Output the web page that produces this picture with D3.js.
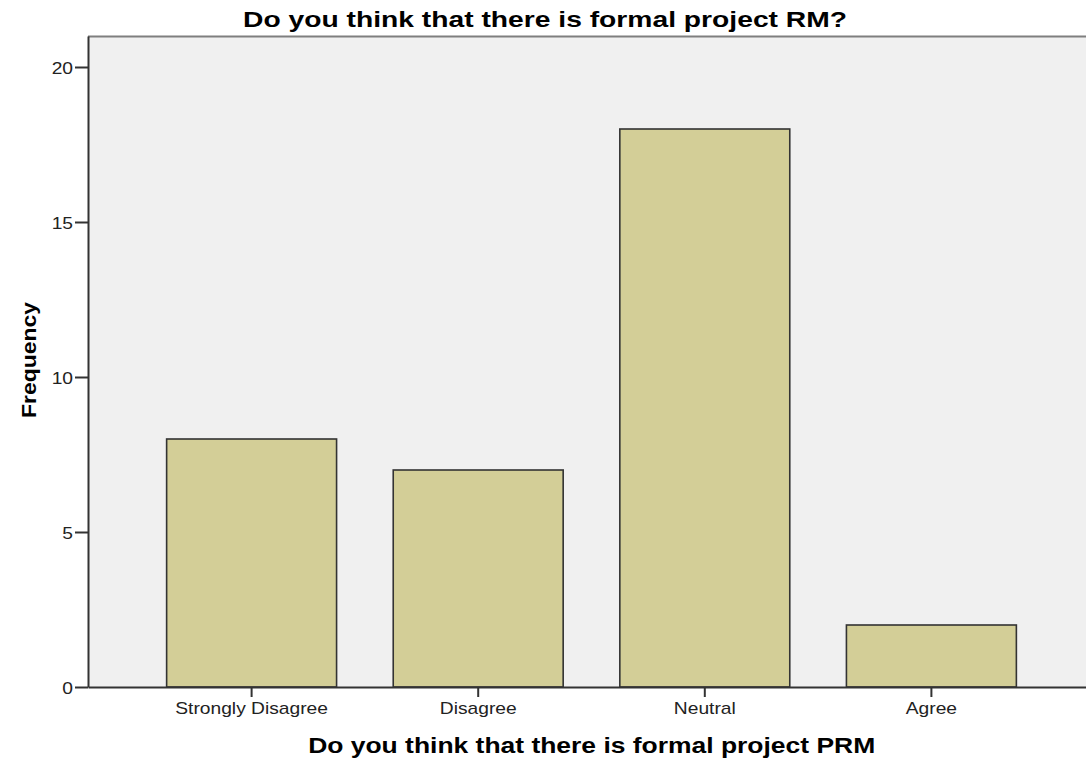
<!DOCTYPE html>
<html><head><meta charset="utf-8">
<script src="https://cdn.jsdelivr.net/npm/d3@7"></script>
<style>body{margin:0;background:#fff}svg{display:block}text{font-family:"Liberation Sans",Arial,sans-serif}</style>
</head><body>
<script>
const categories = ["Strongly Disagree","Disagree","Neutral","Agree"];
const values = [8,7,18,2];
const yTicks = [0,5,10,15,20];
const title = "Do you think that there is formal project RM?";
const xTitle = "Do you think that there is formal project PRM";
const yTitle = "Frequency";

(function(){
const W=1086,H=761;
const svg=d3.select("body").append("svg").attr("width",W).attr("height",H);
const pL=88, pR=1095, pT=36, pB=687;
const x=d3.scaleBand().domain(categories).range([pL,pR]).paddingInner(0.25).paddingOuter(0.347);
const y=d3.scaleLinear().domain([0,21]).range([pB,pT]);
const stretch=1.13;

svg.append("rect").attr("x",pL).attr("y",pT).attr("width",pR-pL).attr("height",pB-pT).attr("fill","#f0f0f0");
svg.append("line").attr("x1",pL).attr("x2",pR).attr("y1",pT+0.5).attr("y2",pT+0.5).attr("stroke","#7f7f7f").attr("stroke-width",2);

svg.selectAll("rect.bar").data(values).enter().append("rect").attr("class","bar")
  .attr("x",(d,i)=>x(categories[i])).attr("width",x.bandwidth())
  .attr("y",d=>y(d)).attr("height",d=>y(0)-y(d))
  .attr("fill","#d3ce97").attr("stroke","#333").attr("stroke-width",1.6);

function styleAxis(g){
  g.select(".domain").attr("stroke","#333").attr("stroke-width",2);
  g.selectAll(".tick line").attr("stroke","#333").attr("stroke-width",2);
  g.selectAll(".tick text").attr("font-size",17).attr("fill","#222").style("font-family","Liberation Sans, Arial")
   .each(function(){ const w=this.getComputedTextLength(); d3.select(this).attr("textLength",w*stretch).attr("lengthAdjust","spacingAndGlyphs"); });
}
const ya=svg.append("g").attr("transform",`translate(${pL},0)`)
  .call(d3.axisLeft(y).tickValues(yTicks).tickSize(13).tickPadding(2).tickSizeOuter(0));
styleAxis(ya);
ya.selectAll(".tick text").attr("dy","0.36em");

const xa=svg.append("g").attr("transform",`translate(0,${pB})`)
  .call(d3.axisBottom(x).tickSize(10).tickPadding(2).tickSizeOuter(0));
styleAxis(xa);
xa.selectAll(".tick text").attr("dy","0.9em");

svg.append("text").attr("x",545).attr("y",26.5).attr("text-anchor","middle").attr("font-size",22).attr("font-weight","bold")
  .attr("textLength",604).attr("lengthAdjust","spacingAndGlyphs").text(title);
svg.append("text").attr("x",591.7).attr("y",753).attr("text-anchor","middle").attr("font-size",22).attr("font-weight","bold")
  .attr("textLength",567).attr("lengthAdjust","spacingAndGlyphs").text(xTitle);
svg.append("text").attr("transform","translate(36,360) rotate(-90)").attr("text-anchor","middle").attr("font-size",21).attr("font-weight","bold")
  .attr("textLength",116).attr("lengthAdjust","spacingAndGlyphs").text(yTitle);
})();
</script>
</body></html>
